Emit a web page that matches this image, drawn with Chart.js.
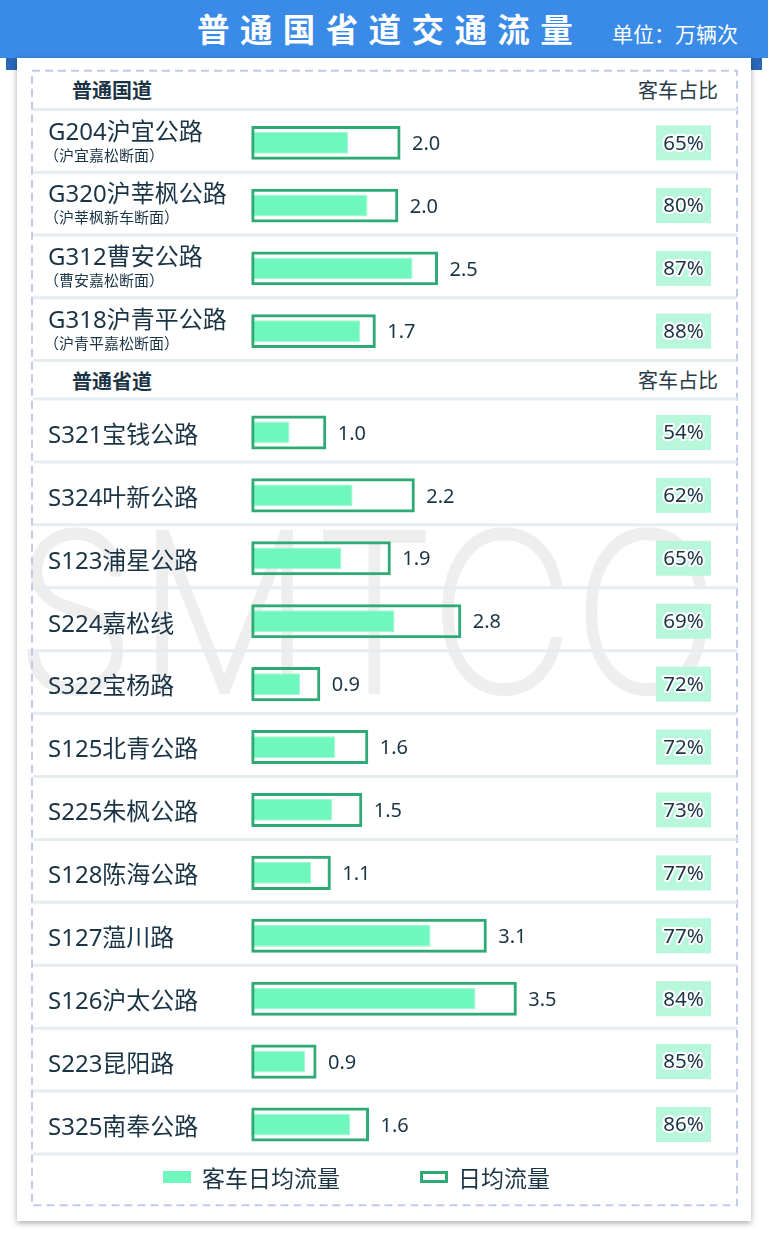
<!DOCTYPE html>
<html><head><meta charset="utf-8">
<script src="https://cdn.jsdelivr.net/npm/chart.js@4.4.1/dist/chart.umd.min.js"></script>
<style>
html,body{margin:0;padding:0;background:#fff;width:768px;height:1237px;overflow:hidden;}
body{position:relative;font-family:"Noto Sans","Noto Sans CJK SC",sans-serif;color:#1b3445;}
.abs{position:absolute;white-space:nowrap;}
#header{left:0;top:0;width:768px;height:58px;background:#3a8ae8;}
.tab{top:58px;width:11px;height:12px;background:#2b68bb;}
#card{left:17px;top:58px;width:734px;height:1163px;background:#fff;box-shadow:0 2px 6px rgba(0,0,0,0.35);}
#title{left:197px;top:8px;font-size:32.5px;font-weight:700;color:#fff;letter-spacing:10.4px;line-height:44px;}
#unit{left:612px;top:20px;font-size:21px;color:#fff;line-height:28px;}
#wm{left:16px;top:505px;font-family:"Inter","Liberation Sans",sans-serif;font-weight:100;font-size:215px;line-height:215px;color:#eeeeee;-webkit-text-stroke:8px #eeeeee;transform:scaleX(0.9);transform-origin:0 0;letter-spacing:4px;}
.sec{font-size:20px;font-weight:700;line-height:26px;left:72px;}
.ratio{font-size:20px;line-height:26px;right:50px;color:#2a3c4a;}
canvas{position:absolute;left:33px;}
.lg{font-size:23px;line-height:30px;top:1163px;}
.lbox{top:1171px;width:28px;height:12px;box-sizing:border-box;}
</style></head>
<body>
<div id="header" class="abs"></div>
<div class="abs tab" style="left:6px"></div>
<div class="abs tab" style="left:751px"></div>
<div id="card" class="abs"></div>
<div id="wm" class="abs">SMTCC</div>
<svg class="abs" style="left:0;top:0" width="768" height="1237">
  <rect x="32" y="70.7" width="705" height="1134.5" fill="none" stroke="#c3cae9" stroke-width="2" stroke-dasharray="8 5"/>
</svg>
<div id="title" class="abs">普通国省道交通流量</div>
<div id="unit" class="abs">单位：万辆次</div>
<div class="abs sec" style="top:78px">普通国道</div>
<div class="abs ratio" style="top:78px">客车占比</div>
<div class="abs sec" style="top:368.5px">普通省道</div>
<div class="abs ratio" style="top:368px">客车占比</div>
<canvas id="cG" width="704" height="272" style="top:100px"></canvas>
<canvas id="cS" width="704" height="776" style="top:390px"></canvas>
<div class="abs lbox" style="left:163px;background:#70f7bd"></div>
<div class="abs lg" style="left:202px">客车日均流量</div>
<div class="abs lbox" style="left:420px;border:3px solid #2faa75;background:#fff"></div>
<div class="abs lg" style="left:458px">日均流量</div>
<script>
// ---- data ----
const gLabels = ['G204沪宜公路','G320沪莘枫公路','G312曹安公路','G318沪青平公路'];
const gSubLabels = ['（沪宜嘉松断面）','（沪莘枫新车断面）','（曹安嘉松断面）','（沪青平嘉松断面）'];
const gTotal = [1.99, 1.96, 2.49, 1.66];
const gPassenger = [1.29, 1.55, 2.15, 1.45];
const gShare = [65, 80, 87, 88];

const sLabels = ['S321宝钱公路','S324叶新公路','S123浦星公路','S224嘉松线','S322宝杨路','S125北青公路','S225朱枫公路','S128陈海公路','S127蕰川路','S126沪太公路','S223昆阳路','S325南奉公路'];
const sTotal = [1.0, 2.18, 1.86, 2.8, 0.92, 1.56, 1.48, 1.06, 3.14, 3.54, 0.87, 1.57];
const sPassenger = [0.51, 1.35, 1.2, 1.91, 0.65, 1.12, 1.08, 0.8, 2.39, 2.99, 0.72, 1.32];
const sShare = [54, 62, 65, 69, 72, 72, 73, 77, 77, 84, 85, 86];

const seriesNames = ['客车日均流量', '日均流量'];

// ---- style ----
const FILL = '#70f7bd', FILL_EDGE = '#a3f6d2', LINE = '#2faa75';
const SEP = '#e6edf1', TXT = '#1b3445', BADGE = '#b8f7dc';
const FONT = '"Noto Sans","Noto Sans CJK SC",sans-serif';
const PX_PER_UNIT = 75, ZERO_X = 218.3, AREA_W = 648;
const XMIN = -ZERO_X / PX_PER_UNIT, XMAX = XMIN + AREA_W / PX_PER_UNIT;

const rowPlugin = {
  id: 'rows',
  beforeDatasetsDraw(chart) {
    const {ctx, chartArea} = chart;
    const n = chart.data.labels.length;
    const step = (chartArea.bottom - chartArea.top) / n;
    ctx.save();
    ctx.strokeStyle = SEP; ctx.lineWidth = 3;
    for (let i = 0; i <= n; i++) {
      const yy = chartArea.top + i * step - 2;
      ctx.beginPath(); ctx.moveTo(0, yy); ctx.lineTo(chart.width, yy); ctx.stroke();
    }
    ctx.restore();
  },
  afterDatasetsDraw(chart) {
    const {ctx, scales: {x, y}} = chart;
    const o = chart.options.plugins.rows;
    const totals = chart.data.datasets[1].data;
    ctx.save();
    ctx.textBaseline = 'middle';
    chart.data.labels.forEach((lab, i) => {
      const cy = y.getPixelForValue(i);
      ctx.fillStyle = TXT;
      ctx.textAlign = 'left';
      if (o.subs) {
        ctx.font = '24px ' + FONT;
        ctx.fillText(lab, 15, cy - 10);
        ctx.font = '15px ' + FONT;
        ctx.fillText(o.subs[i], 11, cy + 13.5);
      } else {
        ctx.font = '24px ' + FONT;
        ctx.fillText(lab, 15, cy + 3.5);
      }
      // value label
      ctx.font = '20px ' + FONT;
      ctx.fillText(totals[i].toFixed(1), x.getPixelForValue(totals[i]) + 11.5, cy + 1.5);
      // share badge
      const bx = 650.5, bw = 55, bh = 35;
      ctx.fillStyle = BADGE;
      ctx.fillRect(bx - bw / 2, cy - bh / 2, bw, bh);
      ctx.textAlign = 'center';
      ctx.font = '20.5px ' + FONT;
      ctx.lineWidth = 4; ctx.lineJoin = 'round'; ctx.strokeStyle = '#fff';
      const t = o.shares[i] + '%';
      ctx.strokeText(t, bx, cy + 1);
      ctx.fillStyle = TXT;
      ctx.fillText(t, bx, cy + 1);
    });
    ctx.restore();
  }
};

function makeChart(id, labels, subs, total, passenger, shares, padTop, padBottom) {
  return new Chart(document.getElementById(id), {
    type: 'bar',
    data: {
      labels: labels,
      datasets: [
        {label: seriesNames[0], data: passenger, backgroundColor: FILL, borderColor: FILL_EDGE,
         borderWidth: 1, borderSkipped: false, barPercentage: 0.346, categoryPercentage: 1,
         grouped: false, order: 1},
        {label: seriesNames[1], data: total, backgroundColor: 'rgba(255,255,255,0)', borderColor: LINE,
         borderWidth: 3, borderSkipped: false, barPercentage: 0.541, categoryPercentage: 1,
         grouped: false, order: 0}
      ]
    },
    options: {
      indexAxis: 'y', responsive: false, animation: false, maintainAspectRatio: false,
      layout: {padding: {left: 0, right: 704 - AREA_W, top: padTop, bottom: padBottom}},
      scales: {
        x: {display: false, min: XMIN, max: XMAX, bounds: 'data'},
        y: {display: false}
      },
      plugins: {legend: {display: false}, tooltip: {enabled: false},
                rows: {subs: subs, shares: shares}}
    },
    plugins: [rowPlugin]
  });
}

makeChart('cG', gLabels, gSubLabels, gTotal, gPassenger, gShare, 11.5, 9.5);
makeChart('cS', sLabels, null, sTotal, sPassenger, sShare, 11, 10);
</script>
</body></html>
